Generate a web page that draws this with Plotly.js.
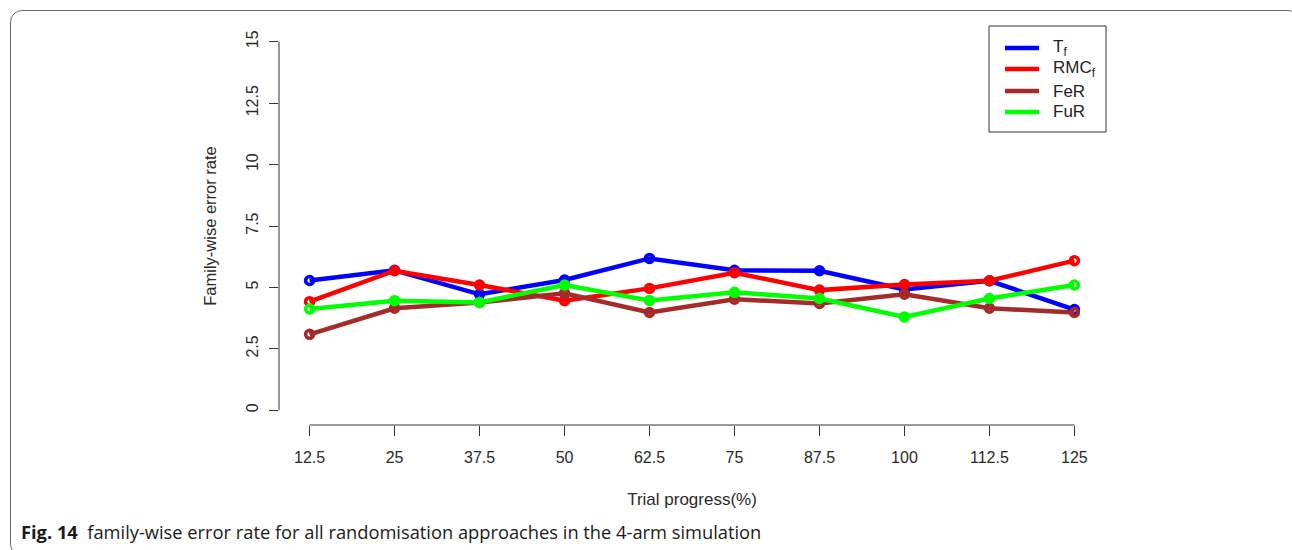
<!DOCTYPE html>
<html>
<head>
<meta charset="utf-8">
<script src="https://cdn.plot.ly/plotly-3.0.1.min.js"></script>
<style>
  html, body { margin: 0; padding: 0; background: #fff; }
  #wrap { position: relative; width: 1292px; height: 550px; overflow: hidden; }
  #chart { position: absolute; left: 0; top: 0; width: 1292px; height: 550px; }
  #frame { position: absolute; left: 10px; top: 10px; width: 1290px; height: 546px; box-sizing: border-box;
           border: 1.5px solid #6a6a6a; border-radius: 12px; pointer-events: none; }
</style>
</head>
<body>
<div id="wrap">
  <div id="chart"></div>
  <div id="frame"></div>
</div>
<script>
// Data
const progress = [12.5, 25, 37.5, 50, 62.5, 75, 87.5, 100, 112.5, 125];
const tickLabels = ["12.5", "25", "37.5", "50", "62.5", "75", "87.5", "100", "112.5", "125"];
const yTickVals = [0, 2.5, 5, 7.5, 10, 12.5, 15];
const yTickLabels = ["0", "2.5", "5", "7.5", "10", "12.5", "15"];

const Tf  = [5.28, 5.70, 4.72, 5.30, 6.18, 5.70, 5.68, 4.92, 5.27, 4.10];
const RMC = [4.42, 5.68, 5.10, 4.46, 4.96, 5.60, 4.89, 5.12, 5.27, 6.09];
const FeR = [3.09, 4.15, 4.39, 4.76, 3.98, 4.52, 4.35, 4.72, 4.15, 3.98];
const FuR = [4.12, 4.46, 4.39, 5.10, 4.47, 4.80, 4.55, 3.80, 4.55, 5.10];

const seriesNames = ["T<sub>f</sub>", "RMC<sub>f</sub>", "FeR", "FuR"];
const seriesData = [Tf, RMC, FeR, FuR];
const seriesColors = ["#0000FF", "#FF0000", "#A52A2A", "#00FF00"];

// plot-area geometry (pixels) used to place the legend box and caption
const M = { l: 279, r: 187, t: 27, b: 125 };
const W = 1292, H = 550;
const PW = W - M.l - M.r, PH = H - M.t - M.b;
const px = v => (v - M.l) / PW;
const py = v => (H - M.b - v) / PH;

const traces = seriesData.map((vals, i) => ({
  x: progress, y: vals, type: "scatter", mode: "lines+markers",
  name: seriesNames[i],
  line: { color: seriesColors[i], width: 4.5 },
  marker: { symbol: "circle-open", size: 8, color: seriesColors[i], line: { width: 3.5, color: seriesColors[i] } },
  showlegend: false, hoverinfo: "skip"
}));

const fam = "Liberation Sans, Arial, sans-serif";
const tickFont = { family: fam, size: 16, color: "#2a2a2a" };

// hand-built legend box (R-style)
const legendShapes = [
  { type: "rect", xref: "paper", yref: "paper", x0: px(989), x1: px(1106), y0: py(26), y1: py(132),
    line: { color: "#333", width: 1 }, fillcolor: "rgba(255,255,255,0)" }
];
const legendAnn = [];
const rowY = [48, 69, 91, 112];
seriesNames.forEach((nm, i) => {
  legendShapes.push({ type: "line", xref: "paper", yref: "paper", x0: px(1005), x1: px(1039), y0: py(rowY[i]), y1: py(rowY[i]),
    line: { color: seriesColors[i], width: 4.5 } });
  legendAnn.push({ xref: "paper", yref: "paper", x: px(1051), y: py(rowY[i]), xanchor: "left", yanchor: "middle",
    showarrow: false, text: nm, font: { family: fam, size: 17, color: "#222" } });
});

const layout = {
  width: W, height: H,
  margin: M,
  paper_bgcolor: "#ffffff", plot_bgcolor: "#ffffff",
  showlegend: false,
  xaxis: {
    range: [8, 129.5], tickmode: "array", tickvals: progress, ticktext: tickLabels,
    showgrid: false, zeroline: false, showline: false,
    ticks: "outside", ticklen: 10, tickwidth: 1, tickcolor: "#333",
    tickfont: tickFont, ticklabelstandoff: 8,
    title: { text: "Trial progress(%)", font: { family: fam, size: 17, color: "#2a2a2a" }, standoff: 27 }
  },
  yaxis: {
    range: [-0.6, 15.6], tickmode: "array", tickvals: yTickVals, ticktext: yTickLabels,
    showgrid: false, zeroline: false, showline: false,
    ticks: "outside", ticklen: 9, tickwidth: 1, tickcolor: "#333", tickangle: -90,
    tickfont: tickFont, ticklabelstandoff: 5,
    title: { text: "Family-wise error rate", font: { family: fam, size: 16.5, color: "#2a2a2a" }, standoff: 22 }
  },
  shapes: [
    { type: "line", xref: "x", yref: "paper", x0: progress[0], x1: progress[progress.length - 1], y0: 0, y1: 0,
      line: { color: "#333", width: 1 } },
    { type: "line", xref: "paper", yref: "y", x0: 0, x1: 0, y0: yTickVals[0], y1: yTickVals[yTickVals.length - 1],
      line: { color: "#333", width: 1 } }
  ].concat(legendShapes),
  annotations: [
    { xref: "paper", yref: "paper", x: px(19), y: py(531), xanchor: "left", yanchor: "middle", showarrow: false,
      text: "<b>Fig. 14</b>  family-wise error rate for all randomisation approaches in the 4-arm simulation",
      font: { family: "Open Sans, sans-serif", size: 18.3, color: "#1a1a1a" } }
  ].concat(legendAnn)
};

Plotly.newPlot("chart", traces, layout, { displayModeBar: false, staticPlot: true });
</script>
</body>
</html>
